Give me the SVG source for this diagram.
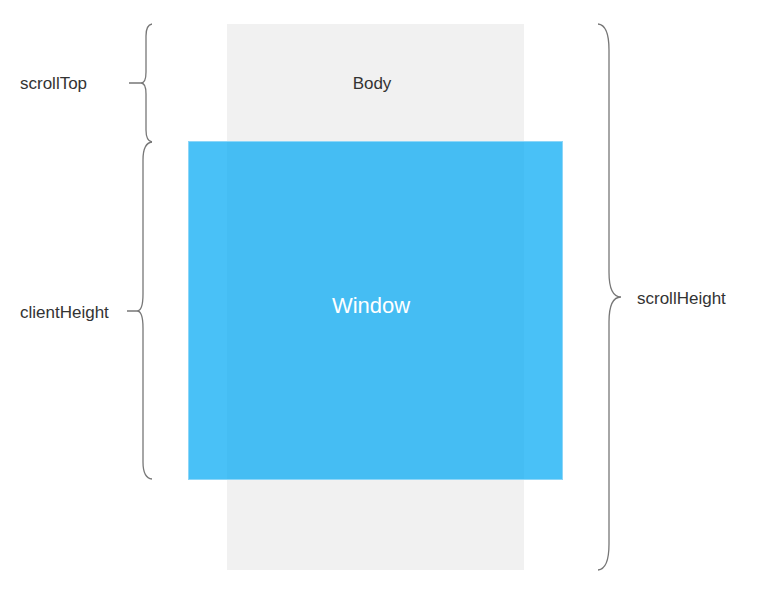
<svg xmlns="http://www.w3.org/2000/svg" width="784" height="606" viewBox="0 0 784 606">
<style>
.lbl{font-family:"Liberation Sans",Arial,sans-serif;font-size:17px;fill:#333}
.brace{fill:none;stroke:#777;stroke-width:1.3}
</style>
<rect width="784" height="606" fill="#fff"/>
<g id="body">
<rect x="227" y="24" width="297" height="546" fill="#f1f1f1"/>
<text class="lbl" x="372" y="89" text-anchor="middle">Body</text>
</g>
<g id="window">
<rect x="188.5" y="141.5" width="374" height="338" fill="#03a9f4" fill-opacity="0.72" stroke="#8dd6f8" stroke-width="1"/>
<text x="371" y="313" text-anchor="middle" font-family="'Liberation Sans',Arial,sans-serif" font-size="22" fill="#fff">Window</text>
</g>
<g id="connectors">
<path class="brace" d="M152,24 Q146,25 146,36 L146,72 Q146,83 141,83 L129,83 M141,83 Q146,83 146,94 L146,130 Q146,141 152,142"/>
<path class="brace" d="M152,142 Q143,143 143,160 L143,294 Q143,311 137,311 L127,311 M137,311 Q143,311 143,328 L143,462 Q143,478 152,479"/>
<path class="brace" d="M598,24 Q609,25 609,50 L609,272 Q609,297 621,297 M621,297 Q609,297 609,322 L609,544 Q609,569 598,570"/>
</g>
<g id="labels">
<text class="lbl" x="20" y="89">scrollTop</text>
<text class="lbl" x="20" y="318">clientHeight</text>
<text class="lbl" x="637" y="304">scrollHeight</text>
</g>
</svg>
